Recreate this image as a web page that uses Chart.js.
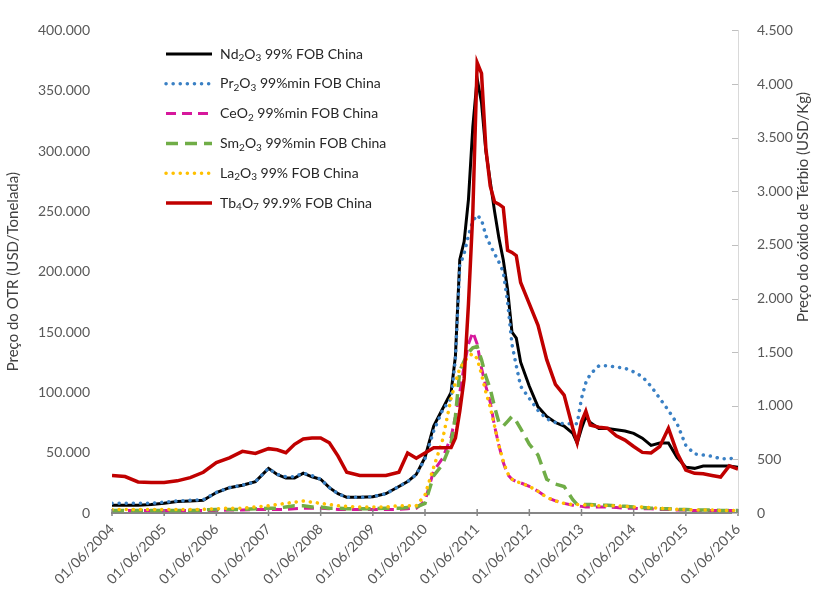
<!DOCTYPE html>
<html>
<head>
<meta charset="utf-8">
<script src="https://cdn.jsdelivr.net/npm/chart.js@4.4.1/dist/chart.umd.min.js"></script>
<style>
  html, body { margin: 0; padding: 0; background: #fff; }
</style>
</head>
<body>
<canvas id="otrPrices" width="820" height="592"></canvas>
<script>
// months counted from 01/06/2004
const months = [0,3,6,9,12,15,18,21,24,27,30,33,
  36,38,40,42,44,46,48,50,52,54,
  57,60,63,66,68,70,72,74,76,78,
  79,80,81,82,83,84,85,86,87,88,
  89,90,91,92,93,94,96,98,100,102,
  104,106,107,108,109,110,112,114,116,118,
  120,122,124,126,128,130,132,134,136,138,
  140,142,144];

// USD/tonelada
const nd2o3 = [6500,6500,6500,7000,8000,9500,10000,10500,17000,21000,23000,26000,
  37000,32000,29000,29000,33000,30000,28000,21000,16000,13000,
  13000,13500,16000,22000,26000,32000,46000,72000,86000,100000,
  130000,210000,225000,260000,320000,360000,340000,300000,275000,250000,
  228000,210000,185000,150000,145000,125000,105000,88000,80000,75000,
  72000,66000,58000,70000,80000,75000,70000,70000,69000,68000,
  66000,62000,56000,58000,58000,46000,38000,37000,39000,39000,
  39000,39000,38000];
const pr2o3 = [8000,8000,8000,8000,9000,10000,10500,11000,17000,21000,23000,26000,
  37000,32000,30000,30000,33000,31000,28000,21000,16000,13000,
  13000,13500,16000,22000,26000,32000,45000,68000,85000,95000,
  128000,205000,215000,230000,242000,247000,243000,230000,222000,215000,
  208000,200000,175000,140000,122000,105000,95000,85000,78000,75000,
  74000,74000,74000,95000,108000,115000,122000,122000,121000,120000,
  117000,113000,105000,95000,85000,74000,56000,49000,48000,47000,
  45000,45000,46000];
const ceo2 = [2000,2000,2000,2000,2000,2000,2000,2000,2000,2500,2500,3000,
  3000,3000,3000,3500,4000,4000,4000,3500,3000,3000,
  3000,3000,3000,3000,3500,4000,10000,35000,45000,63000,
  80000,100000,122000,140000,150000,140000,120000,105000,92000,72000,
  56000,42000,32000,28000,26000,25000,22000,18000,13000,10000,
  8000,6500,6000,5500,5000,5000,5000,5000,4500,4000,
  4000,3500,3500,3000,3000,2500,2500,2000,2000,2000,
  2000,2000,2000];
const sm2o3 = [2000,2000,2000,2000,2000,2000,2000,2500,3000,3000,3000,3500,
  4000,4000,5000,6000,6000,5000,5000,4000,4000,3500,
  3500,3500,4000,4000,4500,5000,8000,31000,40000,58000,
  80000,118000,126000,133000,137000,138000,127000,113000,103000,88000,
  75000,72000,76000,80000,76000,70000,57000,48000,28000,24000,
  22000,11000,7000,7000,7000,7000,6500,6500,6000,5500,
  5000,4500,4000,3500,3500,3000,3000,2500,2500,2500,
  2000,2000,2000];
const la2o3 = [3000,3000,3000,3000,3000,3000,3000,3000,3500,4000,4000,5000,
  6000,7000,8000,9000,10000,9000,8000,7000,6000,5500,
  5000,5000,5000,6000,6000,6000,15000,38000,60000,95000,
  108000,120000,125000,130000,132000,128000,115000,100000,88000,72000,
  56000,43000,33000,28000,26000,25000,22000,18000,13000,10000,
  8000,7000,7000,7000,6500,6500,6000,6000,6000,5500,
  5000,5000,4500,4000,3500,3000,3000,2500,2500,2500,
  2000,2000,2000];
// USD/kg (eixo direito)
const tb4o7 = [350,340,290,285,285,300,330,380,470,515,575,555,
  600,590,562,640,690,700,700,655,530,380,
  350,350,350,380,560,510,560,608,608,610,
  700,950,1250,1950,2800,4200,4100,3400,3050,2900,
  2880,2850,2450,2430,2400,2150,1950,1750,1430,1200,
  1100,790,655,850,950,820,800,790,720,680,
  620,565,560,620,790,560,400,370,365,350,
  335,440,410];

const yearTicks = [2004,2005,2006,2007,2008,2009,2010,2011,2012,2013,2014,2015,2016];

const fontFamily = 'Lato, "Open Sans", sans-serif';
const greyText = '#595959';

function pts(values) {
  return months.map((m, i) => ({ x: m, y: values[i] }));
}
function thousands(v) {
  return String(v).replace(/\B(?=(\d{3})+(?!\d))/g, '.');
}

const subMap = { '₂': '2', '₃': '3', '₄': '4', '₇': '7' };
function drawRich(ctx, text, x, y) {
  for (const ch of text) {
    if (subMap[ch]) {
      ctx.font = '10px ' + fontFamily;
      ctx.fillText(subMap[ch], x, y + 4);
      x += ctx.measureText(subMap[ch]).width;
    } else {
      ctx.font = '14px ' + fontFamily;
      ctx.fillText(ch, x, y);
      x += ctx.measureText(ch).width;
    }
  }
}

const extras = {
  id: 'extras',
  afterDraw(chart) {
    const { ctx, chartArea, scales } = chart;
    ctx.save();
    // tick marks on the date axis
    ctx.strokeStyle = '#868686';
    ctx.lineWidth = 1.5;
    scales.x.ticks.forEach(t => {
      const px = scales.x.getPixelForValue(t.value);
      ctx.beginPath();
      ctx.moveTo(px, chartArea.bottom - 4);
      ctx.lineTo(px, chartArea.bottom + 3);
      ctx.stroke();
    });
    // inner tick marks on the right axis
    ctx.strokeStyle = '#bfbfbf';
    ctx.lineWidth = 1;
    scales.yTb.ticks.forEach(t => {
      const py = Math.round(scales.yTb.getPixelForValue(t.value)) + 0.5;
      ctx.beginPath();
      ctx.moveTo(chartArea.right - 6, py);
      ctx.lineTo(chartArea.right, py);
      ctx.stroke();
    });
    // right axis title
    ctx.save();
    ctx.translate(803, 207);
    ctx.rotate(-Math.PI / 2);
    ctx.fillStyle = '#404040';
    ctx.font = '15px ' + fontFamily;
    ctx.textAlign = 'center';
    ctx.textBaseline = 'middle';
    ctx.fillText('Preço do óxido de Térbio (USD/Kg)', 0, 0);
    ctx.restore();
    // legend
    ctx.textBaseline = 'middle';
    ctx.textAlign = 'left';
    chart.data.datasets.forEach((ds, i) => {
      const y = 54 + i * 29.8;
      ctx.save();
      ctx.strokeStyle = ds.borderColor;
      ctx.lineWidth = ds.borderWidth;
      ctx.lineCap = ds.borderCapStyle || 'butt';
      ctx.setLineDash(ds.borderDash || []);
      ctx.beginPath();
      ctx.moveTo(166, y);
      ctx.lineTo(212, y);
      ctx.stroke();
      ctx.restore();
      ctx.fillStyle = '#262626';
      drawRich(ctx, ds.label, 220, y);
    });
    ctx.restore();
  }
};

const dotted = { borderDash: [0.1, 7], borderCapStyle: 'round' };

new Chart(document.getElementById('otrPrices'), {
  type: 'line',
  data: {
    datasets: [
      { label: 'Nd₂O₃ 99% FOB China', data: pts(nd2o3), borderColor: '#000000', borderWidth: 3, yAxisID: 'y', order: 6 },
      { label: 'Pr₂O₃ 99%min FOB China', data: pts(pr2o3), borderColor: '#3a80c4', borderWidth: 3.5, ...dotted, yAxisID: 'y', order: 5 },
      { label: 'CeO₂ 99%min FOB China', data: pts(ceo2), borderColor: '#d6189c', borderWidth: 3, borderDash: [10, 6], yAxisID: 'y', order: 4 },
      { label: 'Sm₂O₃ 99%min FOB China', data: pts(sm2o3), borderColor: '#70ad47', borderWidth: 3.5, borderDash: [12, 7], yAxisID: 'y', order: 3 },
      { label: 'La₂O₃ 99% FOB China', data: pts(la2o3), borderColor: '#ffc000', borderWidth: 3.5, ...dotted, yAxisID: 'y', order: 2 },
      { label: 'Tb₄O₇ 99.9% FOB China', data: pts(tb4o7), borderColor: '#c00000', borderWidth: 3.5, yAxisID: 'yTb', order: 1 }
    ]
  },
  options: {
    responsive: false,
    animation: false,
    layout: { padding: { top: 25 } },
    elements: { point: { radius: 0 }, line: { tension: 0 } },
    plugins: { legend: { display: false }, tooltip: { enabled: false } },
    scales: {
      x: {
        type: 'linear',
        min: 0,
        max: 144,
        afterBuildTicks: s => { s.ticks = yearTicks.map(yr => ({ value: (yr - 2004) * 12 })); },
        afterFit: s => { s.height = 79; },
        grid: { display: false, drawTicks: false },
        border: { display: true, color: '#868686', width: 2 },
        ticks: {
          autoSkip: false,
          minRotation: 45,
          maxRotation: 45,
          padding: 8,
          color: greyText,
          font: { family: fontFamily, size: 14 },
          callback: v => '01/06/' + (2004 + v / 12)
        }
      },
      y: {
        position: 'left',
        min: 0,
        max: 400000,
        afterFit: s => { s.width = 112; },
        grid: { display: false, drawTicks: false },
        border: { display: false },
        ticks: {
          stepSize: 50000,
          padding: 22,
          color: greyText,
          font: { family: fontFamily, size: 14 },
          callback: v => thousands(v)
        },
        title: {
          display: true,
          text: 'Preço do OTR (USD/Tonelada)',
          color: '#404040',
          font: { family: fontFamily, size: 15 },
          padding: { top: 4, bottom: 0 }
        }
      },
      yTb: {
        position: 'right',
        min: 0,
        max: 4500,
        afterFit: s => { s.width = 82; },
        grid: { display: false, drawTicks: false },
        border: { display: true, color: '#d9d9d9', width: 1 },
        ticks: {
          stepSize: 500,
          padding: 19,
          color: greyText,
          font: { family: fontFamily, size: 14 },
          callback: v => thousands(v)
        }
      }
    }
  },
  plugins: [extras]
});
</script>
</body>
</html>
